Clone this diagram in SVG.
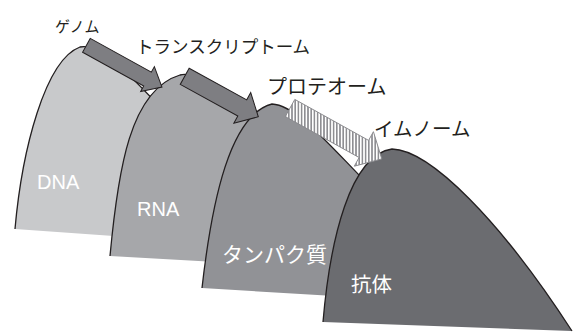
<svg xmlns="http://www.w3.org/2000/svg" width="576" height="333" viewBox="0 0 576 333">
  <defs>
    <pattern id="stripes" patternUnits="userSpaceOnUse" x="0" y="0" width="3.2" height="10">
      <rect x="0" y="0" width="3.2" height="10" fill="#ffffff"/>
      <rect x="0" y="0" width="1.6" height="10" fill="#8e8e92"/>
    </pattern>
  </defs>
  <style>
    .edge { fill: none; stroke: #231f20; stroke-width: 1.3; }
    .arrow { fill: #7e7e82; stroke: #231f20; stroke-width: 1; stroke-linejoin: miter; }
    .arrow-h { fill: url(#stripes); stroke: #8a8a8e; stroke-width: 1; }
    .lbl { font-family: "Noto Sans CJK JP", "Noto Sans", sans-serif; fill: #231f20; }
    .in { font-family: "Noto Sans CJK JP", "Noto Sans", sans-serif; fill: #ffffff; }
    .inl { font-family: "Liberation Sans", Arial, sans-serif; fill: #ffffff; }
  </style>
  <rect width="576" height="333" fill="#ffffff"/>

  <g id="dna">
    <path d="M15,229 C22,150 45,60 80,47 C100,42 130,75 165,112 L170,240 Z" fill="#c8c9cb"/>
    <path class="edge" d="M15,229 C22,150 45,60 80,47 C100,42 130,75 165,112"/>
    <text class="inl" x="37" y="189" font-size="20">DNA</text>
  </g>

  <g id="rna">
    <path d="M110,256 C118,170 130,90 180,75 C195,71 225,88 275,125 L285,266 Z" fill="#a6a7aa"/>
    <path class="edge" d="M110,256 C118,170 130,90 180,75 C195,71 225,88 275,125"/>
    <text class="inl" x="137" y="216" font-size="20">RNA</text>
  </g>

  <g id="protein">
    <path d="M202,288 C212,200 230,115 272,104 C295,105 325,140 360,176 L385,215 L385,299 Z" fill="#919296"/>
    <path class="edge" d="M202,288 C212,200 230,115 272,104 C295,105 325,140 360,176"/>
    <text class="in" x="222" y="262" font-size="21">タンパク質</text>
  </g>

  <g id="antibody">
    <path d="M323,322 C330,240 350,155 392,149 C430,150 500,220 572,331 Z" fill="#6b6c70"/>
    <path class="edge" d="M323,322 C330,240 350,155 392,149 C430,150 500,220 572,331"/>
    <text class="in" x="351" y="292" font-size="20.5">抗体</text>
  </g>

  <g id="connectors">
    <polygon class="arrow" transform="translate(86.4,45.3) rotate(28.9)" points="0,-7.9 69.8,-7.9 69.8,-14.2 86.3,0 69.8,14.2 69.8,7.9 0,7.9"/>
    <polygon class="arrow" transform="translate(184.7,76.3) rotate(28.8)" points="0,-9.25 65.7,-9.25 65.7,-17.5 84,0 65.7,17.5 65.7,9.25 0,9.25"/>
    <polygon class="arrow-h" points="294.8,99.4 368.6,140.4 373.4,131.7 381.8,158.9 354.3,166.2 359.1,157.5 285.25,116.6"/>
  </g>

  <g id="stage-labels">
    <text class="lbl" x="55" y="32" font-size="15">ゲノム</text>
    <text class="lbl" x="136" y="53" font-size="17.5">トランスクリプトーム</text>
    <text class="lbl" x="267" y="94" font-size="20">プロテオーム</text>
    <text class="lbl" x="374" y="136" font-size="19.5">イムノーム</text>
  </g>
</svg>
